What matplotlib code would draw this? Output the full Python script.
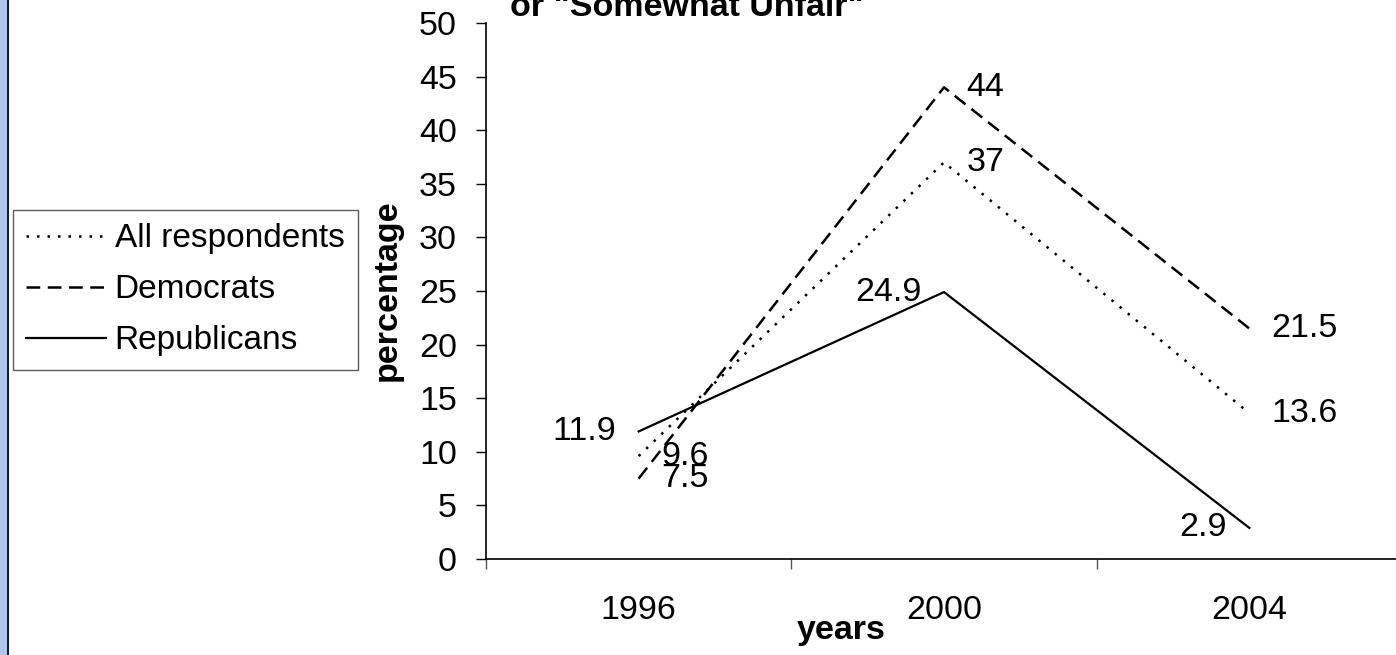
import matplotlib.pyplot as plt
from matplotlib.patches import Rectangle

plt.rcParams['font.family'] = ['Liberation Sans', 'DejaVu Sans']

years = ['1996', '2000', '2004']
all_resp = [9.6, 37, 13.6]
democrats = [7.5, 44, 21.5]
republicans = [11.9, 24.9, 2.9]

# which side of the point each value label sits on (-1 left, +1 right)
all_side = [1, 1, 1]
dem_side = [1, 1, 1]
rep_side = [-1, -1, -1]

W, H = 1396, 655
fig = plt.figure(figsize=(W / 100, H / 100), dpi=100)

# blue strip at the left edge
fig.patches.append(Rectangle((0, 0), 7 / W, 1, transform=fig.transFigure,
                             facecolor='#aec6ea', edgecolor='none'))
fig.patches.append(Rectangle((7 / W, 0), 1.5 / W, 1, transform=fig.transFigure,
                             facecolor='#1a1a1a', edgecolor='none'))

left, right = 486 / W, 1402 / W
bottom, top = (H - 559) / H, (H - 23) / H
ax = fig.add_axes([left, bottom, right - left, top - bottom])

x = list(range(len(years)))
ax.plot(x, all_resp, color='black', lw=1.8, ls=(0, (1, 3.2)), label='All respondents')
ax.plot(x, democrats, color='black', lw=1.8, ls=(0, (5.5, 3)), label='Democrats')
ax.plot(x, republicans, color='black', lw=1.6, ls='-', label='Republicans')

fs = 24.5
for vals, sides in [(all_resp, all_side), (democrats, dem_side), (republicans, rep_side)]:
    for i, (v, s) in enumerate(zip(vals, sides)):
        ax.annotate(f'{v:g}', (i, v), xytext=(16 * s, 0), textcoords='offset points',
                    ha='left' if s > 0 else 'right', va='center', fontsize=fs)

ax.set_xlim(-0.5, 2.5)
ax.set_ylim(0, 50)
ax.set_yticks(range(0, 51, 5))
ax.set_xticks(x)
ax.set_xticklabels(years)
ax.set_xticks([-0.5, 0.5, 1.5, 2.5], minor=True)
ax.tick_params(axis='x', which='major', length=0, pad=26, labelsize=fs)
ax.tick_params(axis='x', which='minor', length=7, width=1, color='#555555', direction='out')
ax.tick_params(axis='y', length=7, width=1, direction='out', pad=14, labelsize=fs)

for s in ['top', 'right']:
    ax.spines[s].set_visible(False)
for s in ['left', 'bottom']:
    ax.spines[s].set_linewidth(1.2)

ax.set_xlabel('years', fontsize=fs, fontweight='bold', va='center', ha='center')
ax.xaxis.set_label_coords((841 - 486) / 916, (25 - 96) / 536)
ax.set_ylabel('percentage', fontsize=fs, fontweight='bold', va='center', ha='center')
ax.yaxis.set_label_coords((387 - 486) / 916, (655 - 290 - 96) / 536)

fig.text(687 / W, 1 - 16 / H, 'or "Somewhat Unfair"', fontsize=fs, fontweight='bold',
         ha='center', va='baseline')

leg = fig.legend(loc='upper left', bbox_to_anchor=(13 / W, 1 - 210 / H), fontsize=24,
                 frameon=True, fancybox=False, edgecolor='#333333', handlelength=2.4,
                 handletextpad=0.25, borderpad=0.4, labelspacing=0.6, borderaxespad=0)
leg.get_frame().set_linewidth(1)

fig.savefig('out.png', dpi=100)
